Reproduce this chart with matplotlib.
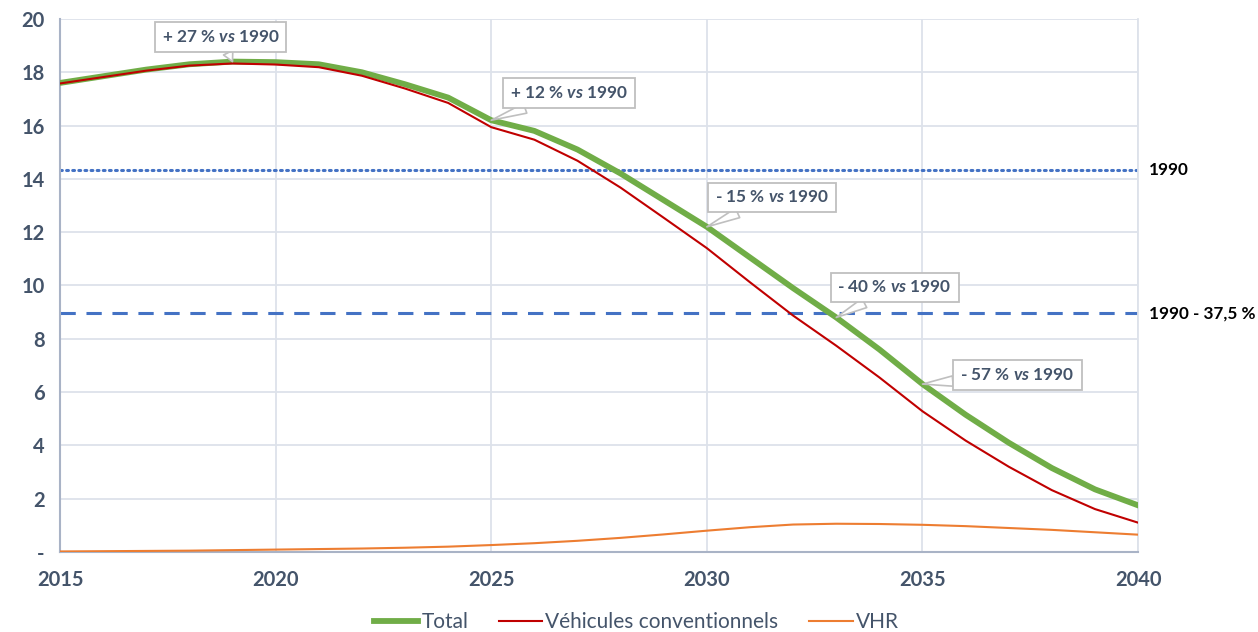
import matplotlib
matplotlib.use("Agg")
import matplotlib.pyplot as plt
from matplotlib.ticker import FixedLocator, FixedFormatter

plt.rcParams['font.family'] = ['Lato', 'DejaVu Sans']
plt.rcParams['mathtext.fontset'] = 'custom'
plt.rcParams['mathtext.rm'] = 'Lato:bold'
plt.rcParams['mathtext.it'] = 'Lato:bold:italic'
plt.rcParams['mathtext.bf'] = 'Lato:bold'

years = list(range(2015, 2041))
total = [17.6, 17.85, 18.1, 18.3, 18.4, 18.38, 18.3, 18.0, 17.55, 17.05, 16.2, 15.8, 15.1,
         14.2, 13.2, 12.2, 11.05, 9.9, 8.8, 7.6, 6.3, 5.15, 4.1, 3.15, 2.35, 1.75]
conventionnels = [17.58, 17.82, 18.06, 18.25, 18.33, 18.29, 18.19, 17.87, 17.39, 16.85, 15.94,
                  15.47, 14.68, 13.67, 12.54, 11.4, 10.12, 8.87, 7.74, 6.55, 5.28, 4.18,
                  3.2, 2.32, 1.61, 1.1]
vhr = [0.02, 0.03, 0.04, 0.05, 0.07, 0.09, 0.11, 0.13, 0.16, 0.2, 0.26, 0.33, 0.42, 0.53,
       0.66, 0.8, 0.93, 1.03, 1.06, 1.05, 1.02, 0.97, 0.9, 0.83, 0.74, 0.65]

ref_1990 = 14.35
ref_target = 8.95
ref_labels = ["1990", "1990 - 37,5 %"]

y_ticks = [0, 2, 4, 6, 8, 10, 12, 14, 16, 18, 20]
y_tick_labels = ["-", "2", "4", "6", "8", "10", "12", "14", "16", "18", "20"]
x_ticks = [2015, 2020, 2025, 2030, 2035, 2040]

ann_years = [2019, 2025, 2030, 2033, 2035]
ann_pct = ["+ 27 %", "+ 12 %", "- 15 %", "- 40 %", "- 57 %"]

TXT = '#44546A'
fig = plt.figure(figsize=(12.58, 6.32), dpi=100)
ax = fig.add_axes([0.0477, 0.1266, 0.857, 0.8434])

ax.axhline(ref_1990, color='#4472C4', lw=2.2, ls=(0, (0.6, 1.4)), dash_capstyle='round', zorder=2)
ax.axhline(ref_target, color='#4472C4', lw=2.2, ls=(0, (5, 3.5)), zorder=2)

l1, = ax.plot(years, total, color='#70AD47', lw=4.2, label='Total', zorder=3,
              solid_joinstyle='round')
l2, = ax.plot(years, conventionnels, color='#C00000', lw=1.5, label='Véhicules conventionnels', zorder=4)
l3, = ax.plot(years, vhr, color='#ED7D31', lw=1.5, label='VHR', zorder=4)

ax.set_xlim(2015, 2040)
ax.set_ylim(0, 20)
ax.xaxis.set_major_locator(FixedLocator(x_ticks))
ax.yaxis.set_major_locator(FixedLocator(y_ticks))
ax.yaxis.set_major_formatter(FixedFormatter(y_tick_labels))
ax.grid(True, color='#DDE2EA', lw=1.3, zorder=0)
ax.set_axisbelow(True)
ax.spines['top'].set_visible(False)
ax.spines['right'].set_color('#DDE2EA')
ax.spines['right'].set_linewidth(1.3)
for s in ['left', 'bottom']:
    ax.spines[s].set_color('#A9B3C6')
    ax.spines[s].set_linewidth(1.5)
ax.tick_params(axis='both', length=0, labelsize=14.5, labelcolor=TXT)
ax.tick_params(axis='y', pad=11)
ax.tick_params(axis='x', pad=13)
for lab in ax.get_xticklabels() + ax.get_yticklabels():
    lab.set_fontweight('bold')

# right-hand reference labels
for val, txt in zip([ref_1990, ref_target], ref_labels):
    ax.annotate(txt, xy=(1, val), xycoords=('axes fraction', 'data'),
                xytext=(8, 0), textcoords='offset points', va='center', ha='left',
                fontsize=12.3, fontweight='bold', color='black')

offsets = [(-8.6, 17.6), (56, 19.8), (46.8, 21.2), (42, 21.6), (68.4, 6.8)]
for yr, pct, off in zip(ann_years, ann_pct, offsets):
    yv = total[years.index(yr)]
    ax.annotate(pct + r" $\mathit{vs}$ 1990", xy=(yr, yv), xytext=off,
                textcoords='offset points', ha='center', va='center',
                fontsize=12.4, fontweight='bold', color=TXT,
                bbox=dict(boxstyle='square,pad=0.4', fc='white', ec='#BFBFBF', lw=1.3),
                arrowprops=dict(arrowstyle='wedge,tail_width=0.6,shrink_factor=0.5',
                                fc='white', ec='#BFBFBF', lw=1.2, shrinkA=0, shrinkB=0),
                zorder=6)

fig.legend(handles=[l1, l2, l3], loc='center', bbox_to_anchor=(0.506, 0.016),
           ncol=3, frameon=False, fontsize=15, labelcolor=TXT, handlelength=2.1,
           columnspacing=1.45, handletextpad=0.15, borderpad=0)

fig.savefig('out.png', dpi=100)
